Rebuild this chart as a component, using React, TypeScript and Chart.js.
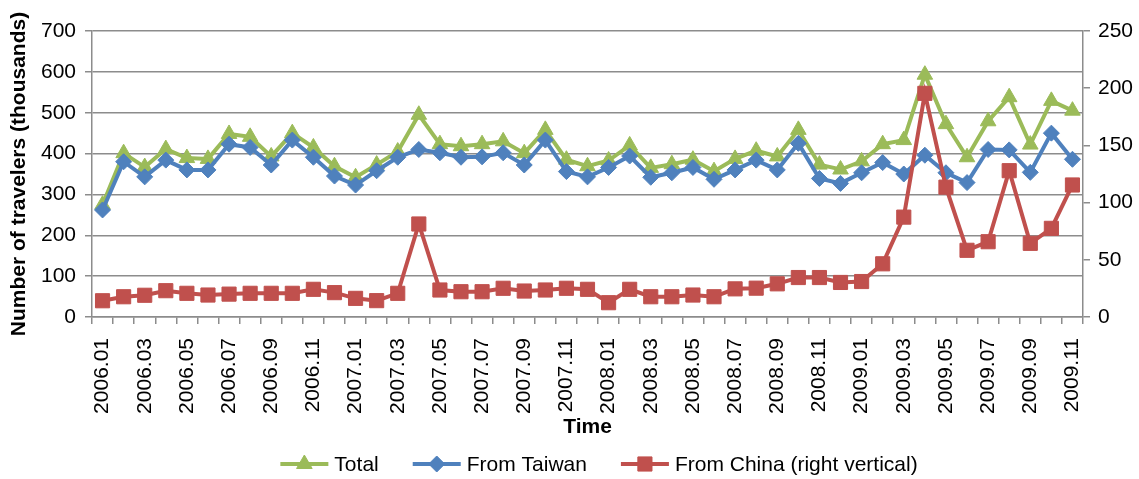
import { useEffect, useRef } from 'react';
import { Chart, registerables } from 'chart.js';
import { drawPoint } from 'chart.js/helpers';

Chart.register(...registerables);

// Monthly categories, 2006.01 – 2009.11
const months = [
  '2006.01', '2006.02', '2006.03', '2006.04', '2006.05', '2006.06', '2006.07', '2006.08', '2006.09', '2006.10', '2006.11', '2006.12',
  '2007.01', '2007.02', '2007.03', '2007.04', '2007.05', '2007.06', '2007.07', '2007.08', '2007.09', '2007.10', '2007.11', '2007.12',
  '2008.01', '2008.02', '2008.03', '2008.04', '2008.05', '2008.06', '2008.07', '2008.08', '2008.09', '2008.10', '2008.11', '2008.12',
  '2009.01', '2009.02', '2009.03', '2009.04', '2009.05', '2009.06', '2009.07', '2009.08', '2009.09', '2009.10', '2009.11',
];

// Travelers, thousands (left axis)
const total = [
  275, 401, 367, 411, 389, 387, 448, 441, 393, 450, 415, 369,
  342, 373, 405, 495, 423, 418, 423, 430, 401, 458, 385, 369,
  383, 420, 365, 374, 385, 357, 387, 407, 393, 458, 373, 361,
  381, 423, 433, 593, 472, 391, 479, 538, 422, 529, 505,
];

const fromTaiwan = [
  262, 380, 343, 384, 360, 360, 423, 415, 372, 433, 391, 345,
  323, 358, 391, 410, 402, 391, 392, 402, 372, 433, 356, 343,
  366, 394, 342, 353, 366, 337, 360, 384, 360, 425, 339, 327,
  353, 378, 350, 396, 353, 329, 410, 409, 354, 450, 386,
];

// Travelers from China, thousands (right axis)
const fromChina = [
  14.2, 17.7, 19.0, 23.0, 20.7, 19.2, 20.0, 20.7, 20.7, 20.7, 24.2, 21.3,
  16.3, 14.3, 20.7, 81.3, 23.6, 22.1, 22.1, 25.1, 22.7, 23.6, 25.1, 24.2,
  12.5, 24.2, 17.7, 17.7, 19.2, 17.7, 24.6, 25.2, 29.0, 34.5, 34.5, 30.2,
  31.0, 46.5, 87.3, 195.5, 113.5, 58.3, 65.8, 127.9, 64.4, 77.5, 115.4,
];

const GREEN = '#9BBB59';
const BLUE = '#4F81BD';
const RED = '#C0504D';
const GRID = '#8C8C8C';
const FONT = '"Liberation Sans", Arial, Helvetica, sans-serif';

// Legend drawn as line segment + marker, centred under the plot
const lineLegend = {
  id: 'lineLegend',
  afterDraw(chart: any) {
    const { ctx } = chart;
    const y = 464;
    const lineLen = 48;
    const textGap = 6;
    const itemGap = 34;
    const centerX = 599;
    ctx.save();
    ctx.font = `21px ${FONT}`;
    const items = chart.data.datasets.map((ds: any) => ({
      ds,
      w: lineLen + textGap + ctx.measureText(ds.label).width,
    }));
    const totalW = items.reduce((s: number, it: any) => s + it.w, 0) + itemGap * (items.length - 1);
    let x = centerX - totalW / 2;
    for (const it of items) {
      const ds = it.ds;
      ctx.strokeStyle = ds.borderColor;
      ctx.lineWidth = ds.borderWidth;
      ctx.beginPath();
      ctx.moveTo(x, y);
      ctx.lineTo(x + lineLen, y);
      ctx.stroke();
      ctx.fillStyle = ds.pointBackgroundColor;
      ctx.strokeStyle = ds.pointBorderColor;
      ctx.lineWidth = ds.pointBorderWidth;
      drawPoint(ctx, { pointStyle: ds.pointStyle, radius: ds.pointRadius, rotation: 0, borderWidth: ds.pointBorderWidth }, x + lineLen / 2, y);
      ctx.fillStyle = '#000';
      ctx.textAlign = 'left';
      ctx.textBaseline = 'middle';
      ctx.fillText(ds.label, x + lineLen + textGap, y + 1);
      x += it.w + itemGap;
    }
    ctx.restore();
  },
};

export default function App() {
  const canvasRef = useRef<HTMLCanvasElement | null>(null);

  useEffect(() => {
    if (!canvasRef.current) return;
    Chart.defaults.font.family = FONT;
    Chart.defaults.color = '#000';

    const tickFont = { family: FONT, size: 21 };
    const titleFont = { family: FONT, size: 21, weight: 'bold' as const };

    const chart = new Chart(canvasRef.current, {
      type: 'line',
      data: {
        labels: months,
        datasets: [
          {
            label: 'Total',
            data: total,
            yAxisID: 'y',
            borderColor: GREEN,
            backgroundColor: GREEN,
            borderWidth: 4,
            pointStyle: 'triangle',
            pointRadius: 9,
            pointBorderWidth: 1,
            pointBackgroundColor: GREEN,
            pointBorderColor: GREEN,
            tension: 0,
            order: 3,
          },
          {
            label: 'From Taiwan',
            data: fromTaiwan,
            yAxisID: 'y',
            borderColor: BLUE,
            backgroundColor: BLUE,
            borderWidth: 4,
            pointStyle: 'rectRot',
            pointRadius: 8,
            pointBorderWidth: 1,
            pointBackgroundColor: BLUE,
            pointBorderColor: BLUE,
            tension: 0,
            order: 2,
          },
          {
            label: 'From China (right vertical)',
            data: fromChina,
            yAxisID: 'y1',
            borderColor: RED,
            backgroundColor: RED,
            borderWidth: 4,
            pointStyle: 'rect',
            pointRadius: 10,
            pointBorderWidth: 1,
            pointBackgroundColor: RED,
            pointBorderColor: RED,
            tension: 0,
            order: 1,
          },
        ],
      },
      options: {
        animation: false,
        responsive: true,
        maintainAspectRatio: false,
        layout: { padding: { top: 31, bottom: 30, left: 0, right: 0 } },
        plugins: {
          legend: { display: false },
          tooltip: { enabled: false },
        },
        scales: {
          x: {
            type: 'category',
            offset: true,
            grid: {
              offset: true,
              drawOnChartArea: false,
              drawTicks: true,
              tickLength: 7,
              color: GRID,
              lineWidth: 1.5,
            },
            border: { color: GRID, width: 1.5 },
            ticks: {
              autoSkip: false,
              maxRotation: 90,
              minRotation: 90,
              padding: 14,
              color: '#000',
              font: tickFont,
              callback: (_v: any, i: number) => (i % 2 === 0 ? months[i] : ''),
            },
            title: {
              display: true,
              text: 'Time',
              color: '#000',
              font: titleFont,
              padding: { top: 0, bottom: 9 },
            },
            afterFit: (s: any) => {
              s.height = 132;
            },
          },
          y: {
            position: 'left',
            min: 0,
            max: 700,
            ticks: { stepSize: 100, padding: 9, color: '#000', font: tickFont },
            grid: { color: GRID, lineWidth: 1.5, tickLength: 7 },
            border: { color: GRID, width: 1.5 },
            title: {
              display: true,
              text: 'Number of travelers (thousands)',
              color: '#000',
              font: titleFont,
              padding: { top: 7, bottom: 0 },
            },
            afterFit: (s: any) => {
              s.width = 92;
            },
          },
          y1: {
            position: 'right',
            min: 0,
            max: 250,
            ticks: { stepSize: 50, padding: 8, color: '#000', font: tickFont },
            grid: { drawOnChartArea: false, color: GRID, lineWidth: 1.5, tickLength: 7 },
            border: { color: GRID, width: 1.5 },
            afterFit: (s: any) => {
              s.width = 56;
            },
          },
        },
      },
      plugins: [lineLegend],
    });

    return () => chart.destroy();
  }, []);

  return (
    <div style={{ position: 'absolute', left: 0, top: 0, width: 1139, height: 479, background: '#fff' }}>
      <canvas ref={canvasRef} />
    </div>
  );
}
